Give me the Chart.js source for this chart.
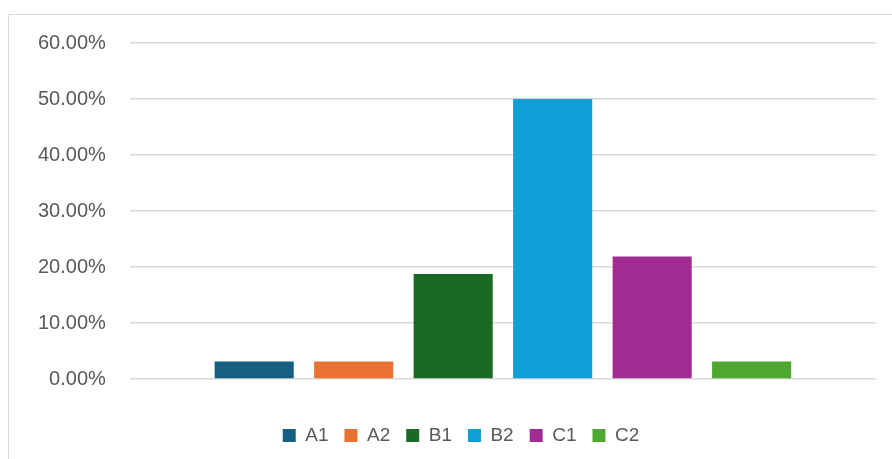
<!DOCTYPE html>
<html>
<head>
<meta charset="utf-8">
<script src="https://cdn.jsdelivr.net/npm/chart.js@4"></script>
<style>
  html, body { margin: 0; padding: 0; background: #fff; }
  #wrap { position: relative; width: 892px; height: 459px; overflow: hidden; }
  #frame { position: absolute; left: 8px; top: 14px; width: 900px; height: 460px; border: 1.5px solid #d9d9d9; box-sizing: border-box; }
  #chart { position: absolute; left: 0; top: 0; }
</style>
</head>
<body>
<div id="wrap">
  <div id="frame"></div>
  <canvas id="chart" width="892" height="459"></canvas>
</div>
<script>
var categories = [""];
var seriesNames = ["A1", "A2", "B1", "B2", "C1", "C2"];
var seriesValues = [0.03125, 0.03125, 0.1875, 0.5, 0.21875, 0.03125];
var seriesColors = ["#156082", "#e97132", "#196b24", "#0f9ed5", "#a02b93", "#4ea72e"];
var yTicks = [0, 0.1, 0.2, 0.3, 0.4, 0.5, 0.6];

var datasets = seriesNames.map(function(name, i) {
  return {
    label: name,
    data: [seriesValues[i]],
    backgroundColor: seriesColors[i],
    borderWidth: 0,
    categoryPercentage: 0.8,
    barPercentage: 0.795
  };
});

// nudge the legend a bit right, like the original
var legendShift = {
  id: "legendShift",
  afterLayout: function(chart) {
    if (chart.legend) {
      chart.legend.left += 16;
      chart.legend.right += 16;
    }
  }
};

new Chart(document.getElementById("chart"), {
  type: "bar",
  data: { labels: categories, datasets: datasets },
  plugins: [legendShift],
  options: {
    responsive: false,
    animation: false,
    layout: {
      padding: { left: 14, right: 16, top: 43, bottom: 4 }
    },
    plugins: {
      tooltip: { enabled: false },
      legend: {
        position: "bottom",
        labels: {
          color: "#595959",
          font: { family: "Liberation Sans", size: 19 },
          boxWidth: 13,
          boxHeight: 13,
          padding: 16
        }
      }
    },
    scales: {
      x: {
        grid: { display: false },
        border: { display: false },
        ticks: { display: false },
        afterFit: function(axis) { axis.height = 31; }
      },
      y: {
        min: yTicks[0],
        max: yTicks[yTicks.length - 1],
        afterBuildTicks: function(axis) {
          axis.ticks = yTicks.map(function(v) { return { value: v }; });
        },
        border: { display: false },
        grid: { color: "#d9d9d9", lineWidth: 1.5, drawTicks: false },
        ticks: {
          color: "#595959",
          font: { family: "Liberation Sans", size: 20 },
          padding: 24,
          callback: function(v) { return (v * 100).toFixed(2) + "%"; }
        }
      }
    }
  }
});
</script>
</body>
</html>
